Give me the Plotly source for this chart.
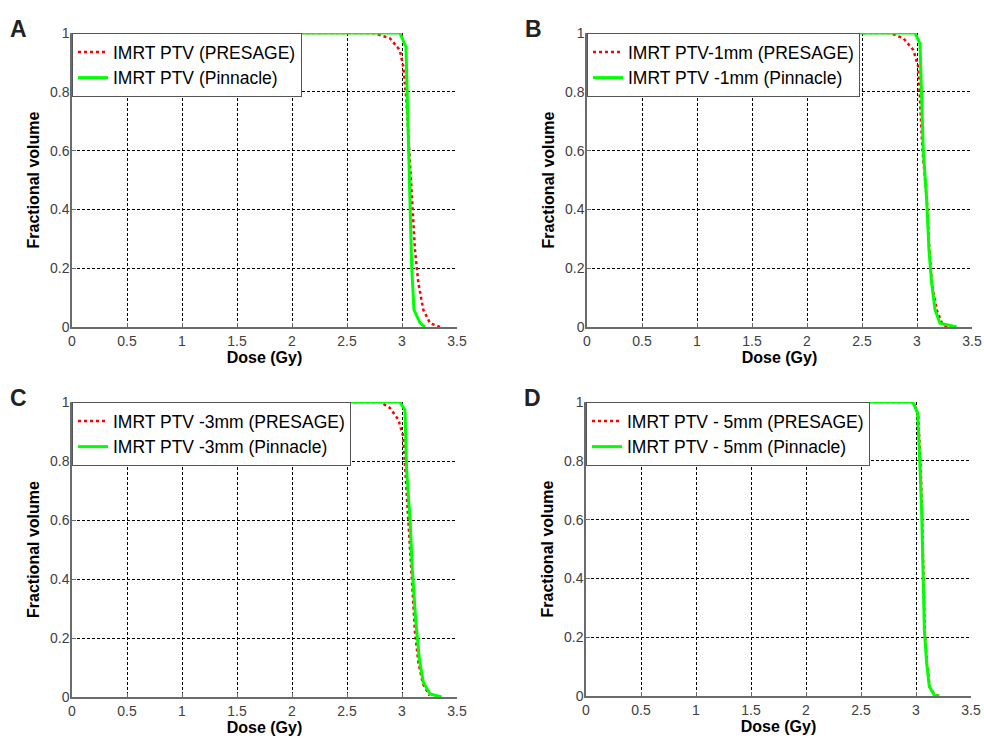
import plotly.graph_objects as go

# ---------------- data ----------------
x_ticks = [0, 0.5, 1, 1.5, 2, 2.5, 3, 3.5]
x_ticklabels = ["0", "0.5", "1", "1.5", "2", "2.5", "3", "3.5"]
y_ticks = [0, 0.2, 0.4, 0.6, 0.8, 1]
y_ticklabels = ["0", "0.2", "0.4", "0.6", "0.8", "1"]

panel_letters = ["A", "B", "C", "D"]
presage_names = ["IMRT PTV (PRESAGE)", "IMRT PTV-1mm (PRESAGE)",
                 "IMRT PTV -3mm (PRESAGE)", "IMRT PTV - 5mm (PRESAGE)"]
pinnacle_names = ["IMRT PTV (Pinnacle)", "IMRT PTV -1mm (Pinnacle)",
                  "IMRT PTV -3mm (Pinnacle)", "IMRT PTV - 5mm (Pinnacle)"]

# Panel A
A_pres_dose = [0, 2.74, 2.89, 2.98, 3.012, 3.04, 3.066, 3.094, 3.118, 3.149, 3.194, 3.255, 3.345]
A_pres_vol = [1, 1, 0.982, 0.942, 0.885, 0.772, 0.602, 0.432, 0.262, 0.149, 0.058, 0.013, 0]
A_pinn_dose = [0, 2.98, 3.036, 3.048, 3.06, 3.073, 3.088, 3.109, 3.164, 3.209]
A_pinn_vol = [1, 1, 0.953, 0.772, 0.602, 0.409, 0.205, 0.058, 0.014, 0]

# Panel B
B_pres_dose = [0, 2.755, 2.876, 2.967, 3.012, 3.033, 3.05, 3.09, 3.112, 3.138, 3.179, 3.225, 3.27]
B_pres_vol = [1, 1, 0.982, 0.942, 0.885, 0.715, 0.6, 0.43, 0.26, 0.14, 0.058, 0.015, 0]
B_pinn_dose = [0, 2.982, 3.027, 3.042, 3.057, 3.088, 3.109, 3.133, 3.164, 3.209, 3.361]
B_pinn_vol = [1, 1, 0.965, 0.772, 0.602, 0.432, 0.262, 0.149, 0.058, 0.013, 0]

# Panel C
C_pres_dose = [0, 2.80, 2.89, 2.967, 3.012, 3.036, 3.06, 3.088, 3.118, 3.149, 3.19, 3.25]
C_pres_vol = [1, 1, 0.98, 0.94, 0.883, 0.736, 0.58, 0.376, 0.22, 0.117, 0.045, 0.005]
C_pinn_dose = [0, 2.98, 3.027, 3.042, 3.073, 3.094, 3.124, 3.158, 3.194, 3.255, 3.36]
C_pinn_vol = [1, 1, 0.973, 0.77, 0.601, 0.432, 0.264, 0.128, 0.05, 0.01, 0]

# Panel D
D_pres_dose = [0, 2.975, 3.02, 3.035, 3.045, 3.055, 3.068, 3.08, 3.1, 3.125, 3.17, 3.225]
D_pres_vol = [1, 1, 0.958, 0.845, 0.752, 0.615, 0.39, 0.22, 0.108, 0.03, 0.004, 0]
D_pinn_dose = [0, 2.97, 3.015, 3.03, 3.039, 3.052, 3.064, 3.076, 3.097, 3.121, 3.166, 3.212]
D_pinn_vol = [1, 1, 0.962, 0.848, 0.757, 0.621, 0.395, 0.224, 0.111, 0.032, 0.003, 0]

pres = [(A_pres_dose, A_pres_vol), (B_pres_dose, B_pres_vol),
        (C_pres_dose, C_pres_vol), (D_pres_dose, D_pres_vol)]
pinn = [(A_pinn_dose, A_pinn_vol), (B_pinn_dose, B_pinn_vol),
        (C_pinn_dose, C_pinn_vol), (D_pinn_dose, D_pinn_vol)]

# ---------------- layout geometry ----------------
W, H = 984, 738
# plot areas in pixels: (left, right, top, bottom)
boxes = [(72, 457, 33, 327), (587, 972, 33, 327),
         (72, 457, 402, 697), (586, 971, 402, 696)]

FONT = "Liberation Sans, Arial, Helvetica, sans-serif"
fig = go.Figure()
layout = dict(
    width=W, height=H, margin=dict(l=0, r=0, t=0, b=0),
    paper_bgcolor="white", plot_bgcolor="white",
    font=dict(family=FONT, color="#000"),
    annotations=[],
)

for i in range(4):
    l, r, t, b = boxes[i]
    sfx = "" if i == 0 else str(i + 1)
    xa, ya = "x" + sfx, "y" + sfx
    leg = "legend" + sfx
    fig.add_trace(go.Scatter(
        x=pres[i][0], y=pres[i][1], mode="lines", name=presage_names[i],
        line=dict(color="#ff0000", width=2.5, dash="dot"),
        xaxis=xa, yaxis=ya, legend=leg))
    fig.add_trace(go.Scatter(
        x=pinn[i][0], y=pinn[i][1], mode="lines", name=pinnacle_names[i],
        line=dict(color="#00ff00", width=3),
        xaxis=xa, yaxis=ya, legend=leg))

    common = dict(
        showgrid=True, gridcolor="#000000", gridwidth=1, griddash="3px,2px",
        showline=True, linecolor="#6b6b6b", linewidth=1.5, mirror=False,
        ticks="inside", ticklen=4, tickcolor="#6b6b6b",
        tickfont=dict(family=FONT, size=14, color="#404040"),
        zeroline=False, fixedrange=True, automargin=False,
    )
    layout["xaxis" + sfx] = dict(
        common, domain=[l / W, r / W], range=[0, 3.5], anchor=ya,
        tickvals=x_ticks, ticktext=x_ticklabels, ticklabelstandoff=0,
        title=dict(text="Dose (Gy)", standoff=1,
                   font=dict(family=FONT, size=16, color="#000", weight="bold")),
    )
    layout["yaxis" + sfx] = dict(
        common, domain=[1 - b / H, 1 - t / H], range=[0, 1], anchor=xa,
        tickvals=y_ticks, ticktext=y_ticklabels, ticklabelstandoff=-2,
        title=dict(text="Fractional volume", standoff=6,
                   font=dict(family=FONT, size=16, color="#000", weight="bold")),
    )
    layout[leg] = dict(
        x=l / W, y=1 - t / H, xanchor="left", yanchor="top",
        bgcolor="white", bordercolor="#555555", borderwidth=1,
        font=dict(family=FONT, size=17.5, color="#000"),
        tracegroupgap=0, itemwidth=30,
    )
    layout["annotations"].append(dict(
        text="<b>" + panel_letters[i] + "</b>", xref="paper", yref="paper",
        x=(l - 64) / W, y=1 - (t - 19) / H, xanchor="left", yanchor="top",
        showarrow=False, font=dict(family=FONT, size=23, color="#222")))

fig.update_layout(**layout)
fig.write_html(
    "out.html",
    config={"displayModeBar": False},
    post_script="document.body.style.margin='0';document.body.style.overflow='hidden';",
)
